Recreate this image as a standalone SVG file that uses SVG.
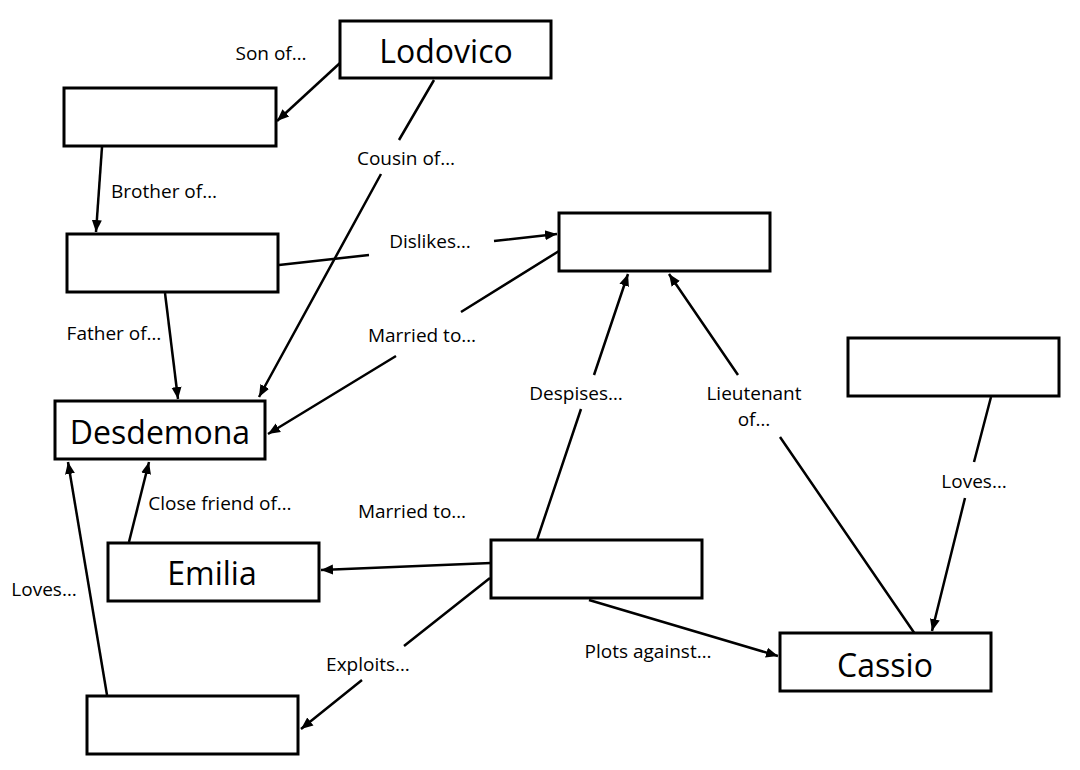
<svg xmlns="http://www.w3.org/2000/svg" width="1080" height="770" viewBox="0 0 1080 770">
<style>
.box{fill:#fff;stroke:#000;stroke-width:3}
.conn{fill:none;stroke:#000;stroke-width:2.5}
.lbl{font-family:"Open Sans","Liberation Sans",sans-serif;font-size:19px;fill:#000;text-anchor:middle}
.name{font-family:"Open Sans","Liberation Sans",sans-serif;font-size:32px;fill:#000;text-anchor:middle}
</style>
<defs>
<marker id="arr" markerUnits="userSpaceOnUse" markerWidth="14" markerHeight="12" refX="12" refY="6" orient="auto">
<path d="M0,1 L12,6 L0,11 z" fill="#000"/>
</marker>
</defs>
<rect width="1080" height="770" fill="#fff"/>
<g id="connectors">
<path class="conn" d="M340,63 L277,121" marker-end="url(#arr)"/>
<path class="conn" d="M434,80 L399,140 M381,174 L259,397" marker-end="url(#arr)"/>
<path class="conn" d="M102,147 L96,232" marker-end="url(#arr)"/>
<path class="conn" d="M279,265 L369,255 M494,241 L557,234" marker-end="url(#arr)"/>
<path class="conn" d="M165,293 L178,399" marker-end="url(#arr)"/>
<path class="conn" d="M559,251 L461,312 M396,356 L268,434" marker-end="url(#arr)"/>
<path class="conn" d="M129,542 L149,462" marker-end="url(#arr)"/>
<path class="conn" d="M107,695 L68,462" marker-end="url(#arr)"/>
<path class="conn" d="M491,563 L321,570" marker-end="url(#arr)"/>
<path class="conn" d="M490,578 L404,646 M362,680 L301,729" marker-end="url(#arr)"/>
<path class="conn" d="M537,540 L581,409 M594,375 L628,274" marker-end="url(#arr)"/>
<path class="conn" d="M915,634 L780,437 M738,375 L669,274" marker-end="url(#arr)"/>
<path class="conn" d="M991,397 L974,462 M965,498 L932,631" marker-end="url(#arr)"/>
<path class="conn" d="M589,600 L778,656" marker-end="url(#arr)"/>
</g>
<g id="lodovico"><rect class="box" x="340" y="21" width="211" height="57"/><text class="name" x="446" y="63">Lodovico</text></g>
<g id="box-son"><rect class="box" x="64" y="88" width="212" height="58"/></g>
<g id="box-brother"><rect class="box" x="67" y="234" width="211" height="58"/></g>
<g id="box-disliked"><rect class="box" x="559" y="213" width="211" height="58"/></g>
<g id="desdemona"><rect class="box" x="55" y="401" width="210" height="58"/><text class="name" x="160" y="444">Desdemona</text></g>
<g id="box-right"><rect class="box" x="848" y="338" width="211" height="58"/></g>
<g id="emilia"><rect class="box" x="108" y="543" width="211" height="58"/><text class="name" x="212" y="585">Emilia</text></g>
<g id="box-center"><rect class="box" x="491" y="540" width="211" height="58"/></g>
<g id="cassio"><rect class="box" x="780" y="633" width="211" height="58"/><text class="name" x="885" y="677">Cassio</text></g>
<g id="box-bottom"><rect class="box" x="87" y="696" width="211" height="58"/></g>
<g id="labels">
<text class="lbl" x="271" y="60">Son of…</text>
<text class="lbl" x="406" y="165">Cousin of…</text>
<text class="lbl" x="164" y="198">Brother of…</text>
<text class="lbl" x="430" y="248">Dislikes…</text>
<text class="lbl" x="114" y="340">Father of…</text>
<text class="lbl" x="422" y="342">Married to…</text>
<text class="lbl" x="220" y="510">Close friend of…</text>
<text class="lbl" x="412" y="518">Married to…</text>
<text class="lbl" x="44" y="596">Loves…</text>
<text class="lbl" x="368" y="671">Exploits…</text>
<text class="lbl" x="576" y="400">Despises…</text>
<text class="lbl" x="754" y="400">Lieutenant</text>
<text class="lbl" x="754" y="426">of…</text>
<text class="lbl" x="974" y="488">Loves…</text>
<text class="lbl" x="648" y="658">Plots against…</text>
</g>
</svg>
